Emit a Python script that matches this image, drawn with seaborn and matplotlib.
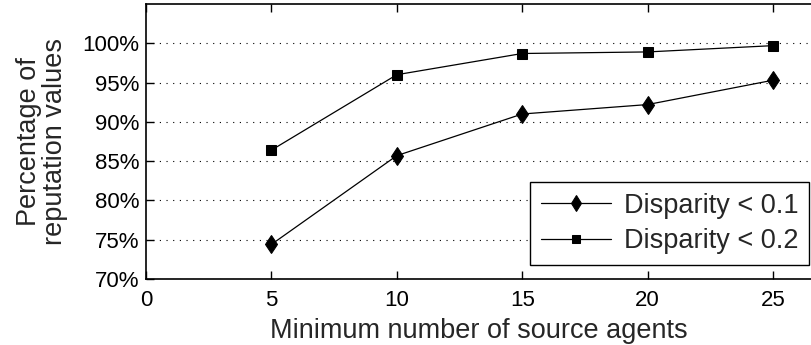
import pandas as pd
import matplotlib
matplotlib.use("Agg")
import matplotlib.pyplot as plt
import seaborn as sns
from matplotlib.ticker import FuncFormatter

# data
min_agents = [5, 10, 15, 20, 25]
disp_01 = [74.4, 85.7, 91.0, 92.2, 95.3]
disp_02 = [86.4, 96.0, 98.7, 98.9, 99.7]
series_names = ["Disparity < 0.1", "Disparity < 0.2"]
x_ticks = [0, 5, 10, 15, 20, 25]
y_ticks = [70, 75, 80, 85, 90, 95, 100]

df = pd.concat([
    pd.DataFrame({"agents": min_agents, "pct": disp_01, "series": series_names[0]}),
    pd.DataFrame({"agents": min_agents, "pct": disp_02, "series": series_names[1]}),
], ignore_index=True)

sns.set_style("ticks")
plt.rcParams["font.family"] = ["Liberation Sans", "DejaVu Sans"]
plt.rcParams["xtick.direction"] = "in"
plt.rcParams["ytick.direction"] = "in"

fig = plt.figure(figsize=(8.12, 3.45), dpi=100)
# axes runs off the right edge of the picture, as in the reference
ax = fig.add_axes([146 / 812, 1 - 279 / 345, (812 - 146) / 812, 275 / 345])

sns.lineplot(data=df, x="agents", y="pct", hue="series", style="series",
             palette=["black", "black"], markers=["d", "s"], dashes=False,
             linewidth=0.9, markeredgecolor="black", ax=ax)
# per-series marker sizes
for line, ms in zip(ax.lines, [9.5, 6.5]):
    line.set_markersize(ms)

ax.set_xlim(0, (812 - 146) / 25.08)
ax.set_ylim(70, 105)
ax.set_xticks(x_ticks)
ax.set_yticks(y_ticks)
ax.yaxis.set_major_formatter(FuncFormatter(lambda v, p: f"{v:.0f}%"))
ax.tick_params(axis="both", labelsize=16, length=6, width=1, colors="black")
ax.tick_params(axis="x", top=True, pad=8)
ax.tick_params(axis="y", pad=5)
ax.grid(axis="y", linestyle=(0, (1, 5)), color="black", linewidth=0.8)
for side in ["left", "bottom", "top"]:
    ax.spines[side].set_linewidth(1.2)
    ax.spines[side].set_color("black")
ax.spines["right"].set_visible(False)

ax.set_xlabel("Minimum number of source agents", fontsize=19.5, labelpad=5)
ax.set_ylabel("Percentage of\nreputation values", fontsize=19.5, labelpad=10,
              linespacing=1.0)

leg = ax.legend(loc="lower right", fontsize=19.5, frameon=True, fancybox=False,
                edgecolor="black", framealpha=1, handlelength=2.6,
                handletextpad=0.45, borderpad=0.4, labelspacing=0.35,
                borderaxespad=0, bbox_to_anchor=(0.9955, 0.051))
leg.get_frame().set_linewidth(1)
for h, ms in zip(leg.get_lines(), [8, 5.5]):
    h.set_markersize(ms)

fig.savefig("out.png", dpi=100)
